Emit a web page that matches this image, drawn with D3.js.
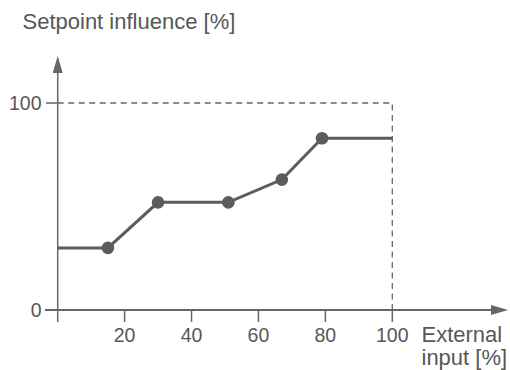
<!DOCTYPE html>
<html>
<head>
<meta charset="utf-8">
<script src="https://cdn.jsdelivr.net/npm/d3@7"></script>
<style>
  body { margin: 0; background: #fff; }
  text { font-family: "Liberation Sans", Arial, sans-serif; fill: #575757; }
</style>
</head>
<body>
<div id="chart"></div>
<script>
// data
var inputs = [0, 15, 30, 51, 67, 79, 100];
var influence = [30, 30, 52, 52, 63, 83, 83];
var dotted = [false, true, true, true, true, true, false];
var xTicks = [20, 40, 60, 80, 100];
var yTicks = [0, 100];

var w = 510, h = 370;
var grey = "#5c5c5c";

var x = d3.scaleLinear().domain([0, 100]).range([57.7, 392.3]);
var y = d3.scaleLinear().domain([0, 100]).range([310, 103]);

var svg = d3.select("#chart")
    .append("svg")
    .attr("width", w)
    .attr("height", h);

// arrow heads
svg.append("defs")
    .append("marker")
    .attr("id", "arrow")
    .attr("viewBox", "0 0 17 10")
    .attr("refX", 0)
    .attr("refY", 5)
    .attr("markerUnits", "userSpaceOnUse")
    .attr("markerWidth", 17)
    .attr("markerHeight", 10)
    .attr("orient", "auto")
    .append("path")
    .attr("d", "M0,0L17,5L0,10Z")
    .attr("fill", "#666");

// dashed limits
svg.append("path")
    .attr("d", "M" + x(0) + "," + y(100) + "H" + x(100) + "V" + y(0))
    .attr("fill", "none")
    .attr("stroke", "#666")
    .attr("stroke-width", 1.3)
    .attr("stroke-dasharray", "6,4.5");

// axes
svg.append("line")
    .attr("x1", 45).attr("x2", 491)
    .attr("y1", y(0)).attr("y2", y(0))
    .attr("stroke", "#666").attr("stroke-width", 2)
    .attr("marker-end", "url(#arrow)");
svg.append("line")
    .attr("x1", x(0)).attr("x2", x(0))
    .attr("y1", 322).attr("y2", 73)
    .attr("stroke", "#666").attr("stroke-width", 1.5)
    .attr("marker-end", "url(#arrow)");

// x ticks
svg.selectAll(".xt")
    .data(xTicks)
    .enter()
    .append("line")
    .attr("x1", d => x(d)).attr("x2", d => x(d))
    .attr("y1", y(0)).attr("y2", 322)
    .attr("stroke", "#666").attr("stroke-width", 1.5);
svg.selectAll(".xl")
    .data(xTicks)
    .enter()
    .append("text")
    .attr("x", d => x(d))
    .attr("y", 341.5)
    .attr("text-anchor", "middle")
    .style("font-size", "19.5px")
    .text(d => d);

// y ticks
svg.selectAll(".yt")
    .data(yTicks)
    .enter()
    .append("line")
    .attr("x1", 46).attr("x2", x(0))
    .attr("y1", d => y(d)).attr("y2", d => y(d))
    .attr("stroke", "#666").attr("stroke-width", 1.5);
svg.selectAll(".yl")
    .data(yTicks)
    .enter()
    .append("text")
    .attr("x", 41.5)
    .attr("y", d => y(d) + 7)
    .attr("text-anchor", "end")
    .style("font-size", "19.5px")
    .text(d => d);

// titles
svg.append("text")
    .attr("x", 22.5).attr("y", 28.5)
    .style("font-size", "22px")
    .text("Setpoint influence [%]");
svg.append("text")
    .attr("x", 421.5).attr("y", 341.5)
    .style("font-size", "22px")
    .text("External");
svg.append("text")
    .attr("x", 421.5).attr("y", 365)
    .style("font-size", "22px")
    .text("input [%]");

// characteristic curve
var line = d3.line()
    .x((d, i) => x(inputs[i]))
    .y(d => y(d));
svg.append("path")
    .datum(influence)
    .attr("d", line)
    .attr("fill", "none")
    .attr("stroke", grey)
    .attr("stroke-width", 3);

svg.selectAll("circle")
    .data(inputs.map((d, i) => ({ x: d, y: influence[i], on: dotted[i] })).filter(d => d.on))
    .enter()
    .append("circle")
    .attr("cx", d => x(d.x))
    .attr("cy", d => y(d.y))
    .attr("r", 6.3)
    .attr("fill", grey);
</script>
</body>
</html>
